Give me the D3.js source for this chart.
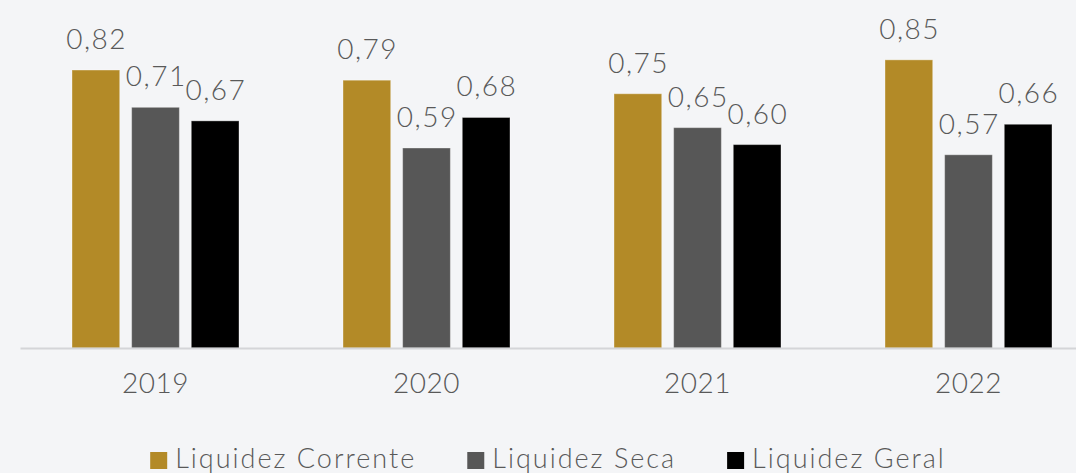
<!DOCTYPE html>
<html>
<head>
<meta charset="utf-8">
<script src="https://cdn.jsdelivr.net/npm/d3@7"></script>
<style>
    body { margin: 0; background: #f4f5f7; }
    svg { display: block; font-family: Lato, "Open Sans", sans-serif; font-weight: 300; }
</style>
</head>
<body>
<script>
// data
let years = ["2019", "2020", "2021", "2022"];
let series = ["Liquidez Corrente", "Liquidez Seca", "Liquidez Geral"];
let corrente = [0.82, 0.79, 0.75, 0.85];
let seca = [0.71, 0.59, 0.65, 0.57];
let geral = [0.67, 0.68, 0.60, 0.66];
let colors = ["#b38a27", "#575757", "#000000"];

run();

function run() {
    let width = 1076;
    let height = 473;
    let baseY = 348;

    let svg = d3.select("body")
        .append("svg")
        .attr("width", width)
        .attr("height", height);

    svg.append("rect")
        .attr("width", width)
        .attr("height", height)
        .attr("fill", "#f4f5f7");

    let x0 = d3.scaleBand()
        .domain(years)
        .range([20, 1104]);

    let x1 = d3.scaleBand()
        .domain(series)
        .range([52, 219])
        .paddingInner(0.2);

    let y = d3.scaleLinear()
        .domain([0, 1])
        .range([baseY, baseY - 339]);

    let rows = years.map(function (yr, i) {
        return {year: yr, values: [corrente[i], seca[i], geral[i]]};
    });

    let groups = svg.selectAll(".group")
        .data(rows)
        .enter()
        .append("g")
        .attr("class", "group")
        .attr("transform", function (d) { return "translate(" + x0(d.year) + ",0)"; });

    let bars = groups.selectAll(".bar")
        .data(function (d) {
            return d.values.map(function (v, j) { return {s: series[j], v: v, c: colors[j]}; });
        })
        .enter();

    bars.append("rect")
        .attr("class", "bar")
        .attr("x", function (d) { return x1(d.s); })
        .attr("y", function (d) { return y(d.v); })
        .attr("width", x1.bandwidth())
        .attr("height", function (d) { return baseY - y(d.v); })
        .attr("fill", function (d) { return d.c; })
        .attr("stroke", "#ffffff")
        .attr("stroke-opacity", 0.35)
        .attr("stroke-width", 1);

    bars.append("text")
        .attr("x", function (d) { return x1(d.s) + x1.bandwidth() / 2 + 0.75; })
        .attr("y", function (d) { return y(d.v) - 21; })
        .attr("text-anchor", "middle")
        .attr("font-size", "28px")
        .attr("letter-spacing", "1.5px")
        .attr("fill", "#595959")
        .text(function (d) { return d3.format(".2f")(d.v).replace(".", ","); });

    // axis
    let axis = svg.append("g")
        .attr("transform", "translate(0," + baseY + ")")
        .call(d3.axisBottom(x0).tickSize(0).tickPadding(25));
    axis.select(".domain")
        .attr("stroke", "#d4d5d8")
        .attr("stroke-width", 2);
    axis.selectAll("text")
        .attr("font-size", "28px")
        .attr("font-family", "Lato, 'Open Sans', sans-serif")
        .attr("font-weight", 300)
        .attr("letter-spacing", "0.5px")
        .attr("fill", "#595959")
        .attr("dy", "0.71em");

    // legend
    let legend = svg.append("g").attr("class", "legend");
    let pos = 0;
    series.forEach(function (s, i) {
        let item = legend.append("g").attr("transform", "translate(" + pos + ",0)");
        item.append("rect")
            .attr("x", 0)
            .attr("y", -16)
            .attr("width", 17)
            .attr("height", 17)
            .attr("fill", colors[i]);
        let t = item.append("text")
            .attr("x", 25)
            .attr("y", 0)
            .attr("font-size", "27px")
            .attr("letter-spacing", "2px")
            .attr("fill", "#595959")
            .text(s);
        pos += 25 + t.node().getComputedTextLength() + 51;
    });
    let total = pos - 51;
    legend.attr("transform", "translate(" + (548 - total / 2) + ",468)");
}
</script>
</body>
</html>
